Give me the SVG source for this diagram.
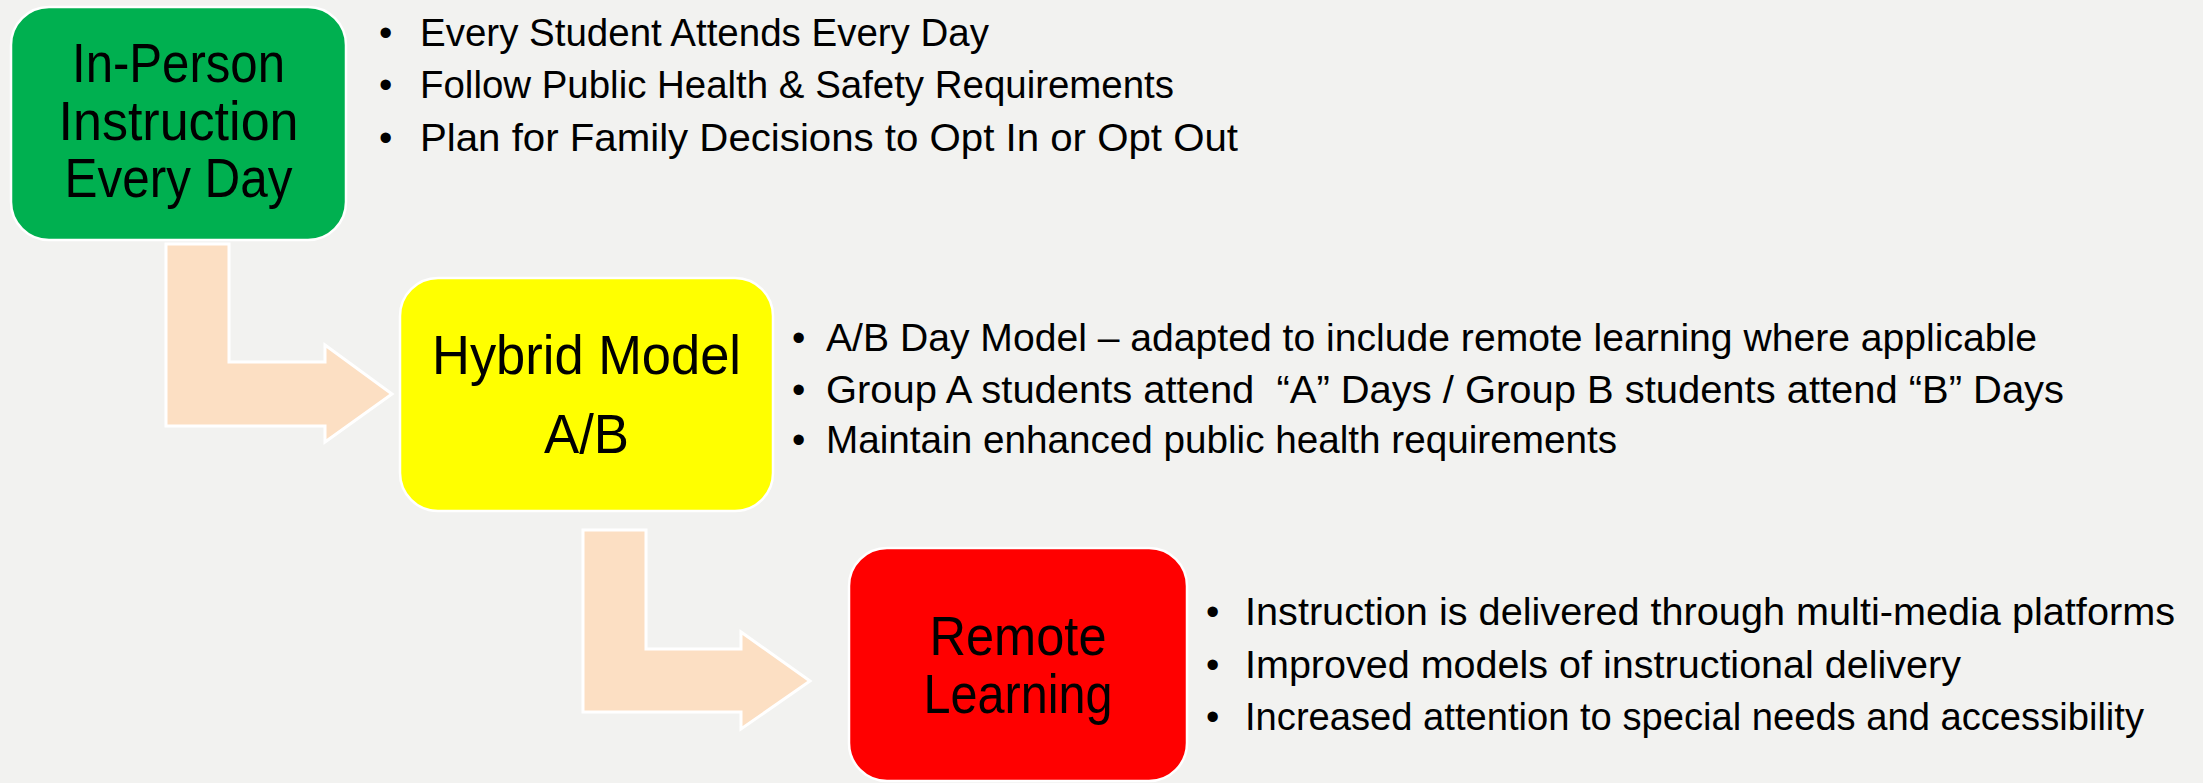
<svg xmlns="http://www.w3.org/2000/svg" width="2203" height="783" viewBox="0 0 2203 783">
<style>
.bg{fill:#F2F2F0}
.box{stroke:#FFFFFF;stroke-width:2.5}
.lbl{font-family:"Liberation Sans",Arial,sans-serif;font-size:55px;fill:#000;text-anchor:middle}
.bul{font-family:"Liberation Sans",Arial,sans-serif;font-size:38px;fill:#000}
.arrow{fill:#FCDFC3;stroke:#FFFFFF;stroke-width:3;stroke-linejoin:miter}
</style>
<rect class="bg" x="0" y="0" width="2203" height="783"/>
<g id="connectors">
<path class="arrow" d="M166,244 L229,244 L229,362 L325,362 L325,345 L392,394 L325,442 L325,426 L166,426 Z"/>
<path class="arrow" d="M583,530 L646,530 L646,649 L741,649 L741,632 L810,681 L741,729 L741,712 L583,712 Z"/>
</g>
<g id="node-inperson">
<rect class="box" x="11" y="7" width="335" height="233" rx="38" ry="38" fill="#00B050"/>
<text class="lbl" x="178.5" y="82" textLength="213" lengthAdjust="spacingAndGlyphs">In-Person</text>
<text class="lbl" x="178.5" y="140" textLength="240" lengthAdjust="spacingAndGlyphs">Instruction</text>
<text class="lbl" x="178.5" y="197" textLength="228" lengthAdjust="spacingAndGlyphs">Every Day</text>
</g>
<g id="bullets-inperson">
<text class="bul" x="379" y="46">•</text>
<text class="bul" x="420" y="46" textLength="569" lengthAdjust="spacingAndGlyphs">Every Student Attends Every Day</text>
<text class="bul" x="379" y="98">•</text>
<text class="bul" x="420" y="98" textLength="754" lengthAdjust="spacingAndGlyphs">Follow Public Health &amp; Safety Requirements</text>
<text class="bul" x="379" y="151">•</text>
<text class="bul" x="420" y="151" textLength="818" lengthAdjust="spacingAndGlyphs">Plan for Family Decisions to Opt In or Opt Out</text>
</g>
<g id="node-hybrid">
<rect class="box" x="400" y="278" width="373" height="233" rx="38" ry="38" fill="#FFFF00"/>
<text class="lbl" x="586.5" y="374" textLength="309" lengthAdjust="spacingAndGlyphs">Hybrid Model</text>
<text class="lbl" x="586.5" y="453" textLength="85" lengthAdjust="spacingAndGlyphs">A/B</text>
</g>
<g id="bullets-hybrid">
<text class="bul" x="792" y="351">•</text>
<text class="bul" x="826" y="351" textLength="1211" lengthAdjust="spacingAndGlyphs">A/B Day Model – adapted to include remote learning where applicable</text>
<text class="bul" x="792" y="403">•</text>
<text class="bul" x="826" y="403" textLength="1238" lengthAdjust="spacingAndGlyphs" xml:space="preserve">Group A students attend  “A” Days / Group B students attend “B” Days</text>
<text class="bul" x="792" y="453">•</text>
<text class="bul" x="826" y="453" textLength="791" lengthAdjust="spacingAndGlyphs">Maintain enhanced public health requirements</text>
</g>
<g id="node-remote">
<rect class="box" x="849" y="548" width="338" height="233" rx="38" ry="38" fill="#FF0000"/>
<text class="lbl" x="1018" y="655" textLength="177" lengthAdjust="spacingAndGlyphs">Remote</text>
<text class="lbl" x="1018" y="713" textLength="189" lengthAdjust="spacingAndGlyphs">Learning</text>
</g>
<g id="bullets-remote">
<text class="bul" x="1206" y="625">•</text>
<text class="bul" x="1245" y="625" textLength="930" lengthAdjust="spacingAndGlyphs">Instruction is delivered through multi-media platforms</text>
<text class="bul" x="1206" y="678">•</text>
<text class="bul" x="1245" y="678" textLength="716" lengthAdjust="spacingAndGlyphs">Improved models of instructional delivery</text>
<text class="bul" x="1206" y="730">•</text>
<text class="bul" x="1245" y="730" textLength="899" lengthAdjust="spacingAndGlyphs">Increased attention to special needs and accessibility</text>
</g>
</svg>
